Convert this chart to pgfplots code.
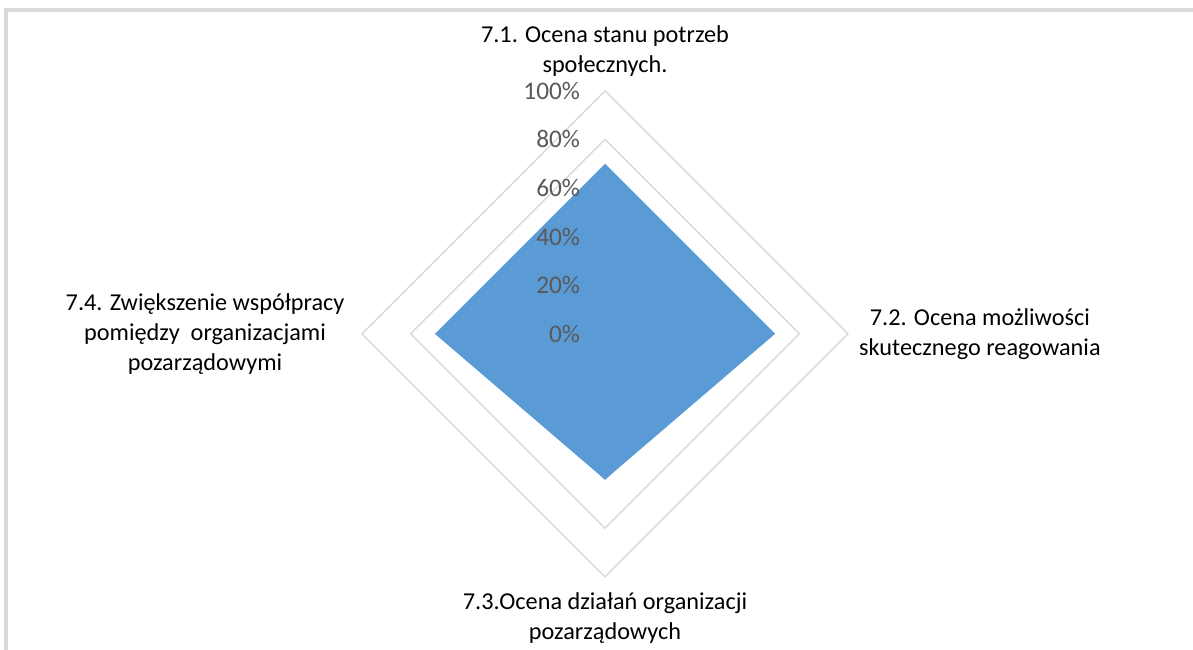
\documentclass[border=0pt]{standalone}
\usepackage{pgfplots}
\pgfplotsset{compat=1.18}
\usepackage{fontspec}
\setmainfont{Carlito}

\definecolor{seriesblue}{RGB}{91,155,213}
\definecolor{gridgray}{RGB}{217,217,217}
\definecolor{ticktext}{RGB}{89,89,89}
\definecolor{framegray}{RGB}{217,217,217}

% radar values (0..1), axes: top, right, bottom, left
\pgfplotstableread{
x y
0 0.70
0.70 0
0 -0.60
-0.70 0
0 0.70
}\series

\begin{document}
\begin{tikzpicture}[
  ticklab/.style={anchor=east, inner sep=0pt, text=ticktext, font=\fontsize{7.2}{8.6}\selectfont},
  catlab/.style={align=center, font=\fontsize{6.9}{8.6}\selectfont},
]
\begin{axis}[
  x=2.43cm, y=2.43cm,
  xmin=-2.49, xmax=2.42, ymin=-1.30, ymax=1.374,
  hide axis, clip=false,
]
% chart frame (top and left edges visible)
\draw[framegray, line width=0.9pt] (axis cs:-2.465,-1.30) -- (axis cs:-2.465,1.333) -- (axis cs:2.42,1.333);
% grid diamonds
\addplot[gridgray, line width=0.4pt] coordinates {(0,1) (1,0) (0,-1) (-1,0) (0,1)};
\addplot[gridgray, line width=0.4pt] coordinates {(0,0.8) (0.8,0) (0,-0.8) (-0.8,0) (0,0.8)};
\addplot[gridgray, line width=0.4pt] coordinates {(0,0.6) (0.6,0) (0,-0.6) (-0.6,0) (0,0.6)};
\addplot[gridgray, line width=0.4pt] coordinates {(0,0.4) (0.4,0) (0,-0.4) (-0.4,0) (0,0.4)};
\addplot[gridgray, line width=0.4pt] coordinates {(0,0.2) (0.2,0) (0,-0.2) (-0.2,0) (0,0.2)};
% series
\addplot[fill=seriesblue, draw=none] table {\series};
% radial tick labels
\node[ticklab] at (axis cs:-0.10,0) {0\%};
\node[ticklab] at (axis cs:-0.10,0.2) {20\%};
\node[ticklab] at (axis cs:-0.10,0.4) {40\%};
\node[ticklab] at (axis cs:-0.10,0.6) {60\%};
\node[ticklab] at (axis cs:-0.10,0.8) {80\%};
\node[ticklab] at (axis cs:-0.10,1) {100\%};
% category labels
\node[catlab] at (axis cs:0,1.165) {7.1. Ocena stanu potrzeb\\społecznych.};
\node[catlab] at (axis cs:1.543,0) {7.2. Ocena możliwości\\skutecznego reagowania};
\node[catlab] at (axis cs:0,-1.169) {7.3.Ocena działań organizacji\\pozarządowych};
\node[catlab] at (axis cs:-1.646,0) {7.4. Zwiększenie współpracy\\pomiędzy \ organizacjami\\pozarządowymi};
\end{axis}
\pgfresetboundingbox
\path (current axis.south west) rectangle (current axis.north east);
\end{tikzpicture}
\end{document}
